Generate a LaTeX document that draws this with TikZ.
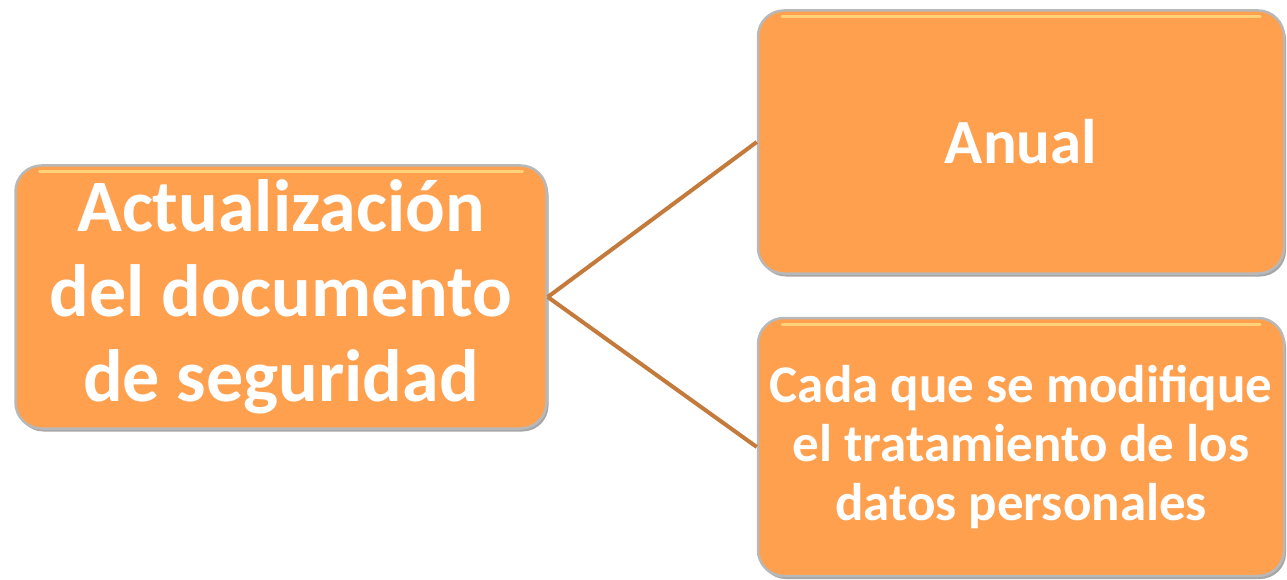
\documentclass[tikz,border=0pt]{standalone}
\usepackage{fontspec}
\setmainfont{Carlito}
\usetikzlibrary{shadows}
\definecolor{boxorange}{HTML}{FFA04F}
\definecolor{linebrown}{HTML}{C47A3A}
\definecolor{rimgray}{HTML}{B8B8B8}
\definecolor{glow}{HTML}{FFD27A}
\tikzset{
  glossy/.style={rectangle, rounded corners=26pt, fill=boxorange,
    draw=rimgray, line width=2.5pt, text=white, align=center,
    inner sep=0pt,
    drop shadow={shadow xshift=2pt, shadow yshift=-3pt, fill=black, opacity=0.35},
    path picture={\draw[glow, line width=3pt, line cap=round]
      ([xshift=24pt,yshift=-6pt]path picture bounding box.north west) --
      ([xshift=-24pt,yshift=-6pt]path picture bounding box.north east);}},
  conn/.style={draw=linebrown, line width=4pt}
}
\begin{document}
\begin{tikzpicture}[x=1pt,y=-1pt]
\useasboundingbox (0,0) rectangle (1287,580);
\node[glossy, minimum width=531pt, minimum height=263pt,
  font=\fontsize{74}{85}\selectfont\bfseries] (main) at (281,297)
  {Actualización\\del documento\\de seguridad};
\node[glossy, minimum width=526pt, minimum height=263pt,
  font=\fontsize{63}{76}\selectfont\bfseries] (anual) at (1021,142)
  {Anual};
\node[glossy, minimum width=526pt, minimum height=258pt,
  font=\fontsize{53}{59}\selectfont\bfseries] (cada) at (1021,447)
  {Cada que se modifique\\el tratamiento de los\\datos personales};
\draw[conn] (main.east) -- (anual.west);
\draw[conn] (main.east) -- (cada.west);
\end{tikzpicture}
\end{document}
